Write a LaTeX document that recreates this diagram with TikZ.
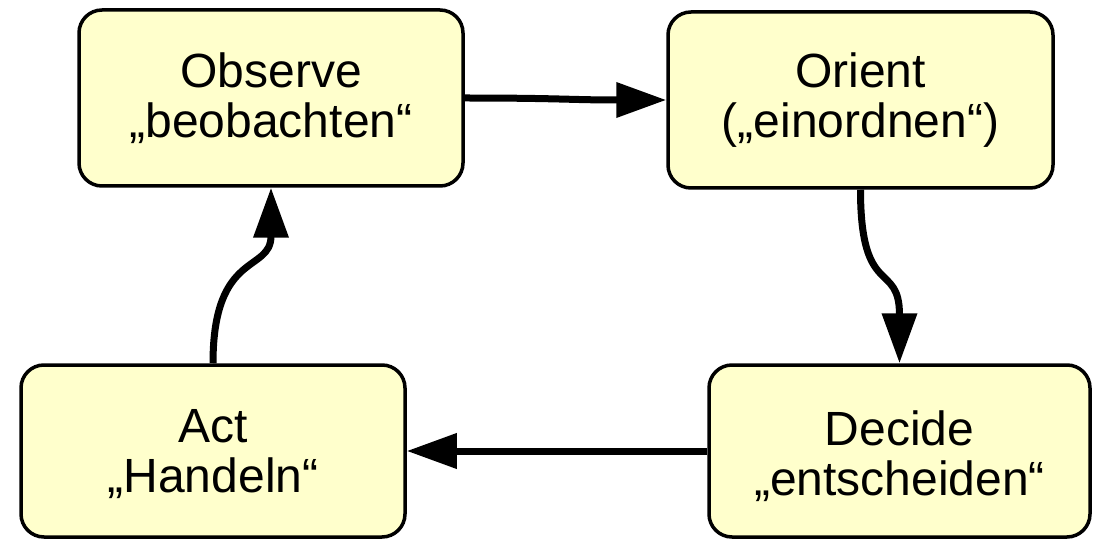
\documentclass[tikz,border=0pt]{standalone}
\usepackage{fontspec}
\setmainfont{Liberation Sans}
\usetikzlibrary{arrows.meta}
\definecolor{boxfill}{HTML}{FFFFCC}
\tikzset{
  phase/.style={draw=black, line width=3.5pt, fill=boxfill, rounded corners=23pt,
    minimum width=384pt, minimum height=176pt, inner sep=0pt, align=center,
    font=\fontsize{48}{50}\selectfont},
  flow/.style={line width=7pt, -{Triangle[length=50pt,width=34pt]}}
}
\begin{document}
\begin{tikzpicture}[x=1pt,y=-1pt]
\useasboundingbox (0,0) rectangle (1093,540);
\node[phase] (obs) at (271,98) {Observe\\„beobachten“};
\node[phase, minimum width=385pt] (ori) at (860.5,100) {Orient\\(„einordnen“)};
\node[phase, minimum height=172pt] (act) at (213,451) {\rule{0pt}{40pt}Act\\„Handeln“};
\node[phase, minimum width=381pt, minimum height=172pt] (dec) at (899.5,451) {\rule{0pt}{45pt}Decide\\„entscheiden“};
\draw[flow] (obs.east) .. controls (560,98) and (570,100) .. (ori.west);
\draw[flow] (ori.south) .. controls (860.5,300) and (899.5,260) .. (dec.north);
\draw[flow] (dec.west) -- (act.east);
\draw[flow] (act.north) .. controls (213,250) and (271,273) .. (obs.south);
\end{tikzpicture}
\end{document}
